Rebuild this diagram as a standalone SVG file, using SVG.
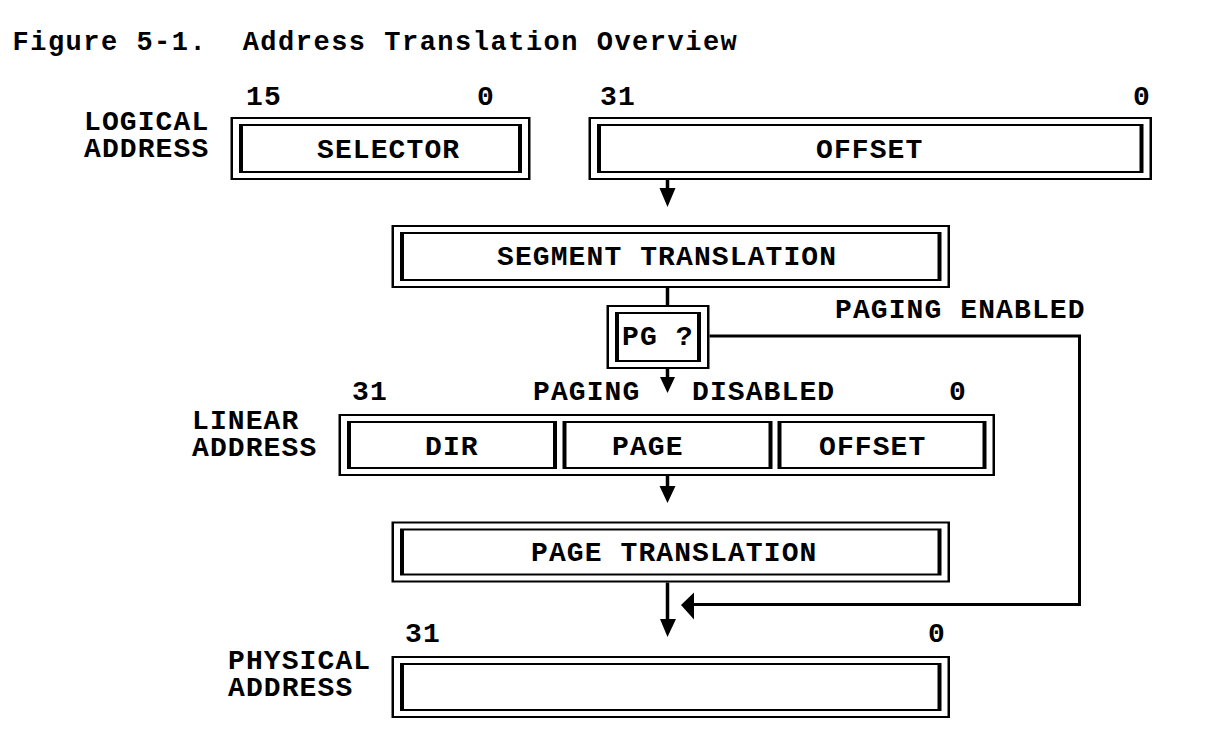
<svg xmlns="http://www.w3.org/2000/svg" width="1212" height="745" viewBox="0 0 1212 745">
<style>
.k{fill:#000}
.w{fill:#fff}
text{font-family:"Liberation Mono","DejaVu Sans Mono",monospace;font-weight:bold;font-size:28px;letter-spacing:1.1px;fill:#000}
.t{font-size:27px;letter-spacing:1.5px}
.ln{fill:none;stroke:#000;stroke-width:3.5}
.bp{fill:none;stroke:#000;stroke-width:3}
</style>
<rect x="0" y="0" width="1212" height="745" fill="#fff"/>
<text class="t" x="12.5" y="49.5" xml:space="preserve">Figure 5-1.  Address Translation Overview</text>

<g id="logical-address">
<text x="84" y="130">LOGICAL<tspan x="84" dy="27">ADDRESS</tspan></text>
</g>

<g id="selector">
<text x="246" y="105">15</text>
<text x="477" y="105">0</text>
<rect class="k" x="230.5" y="117" width="300" height="63"/>
<rect class="w" x="233" y="119" width="295" height="59"/>
<rect class="k" x="239" y="124" width="283" height="49"/>
<rect class="w" x="243" y="126" width="275" height="45"/>
<text x="317" y="158">SELECTOR</text>
</g>

<g id="offset">
<text x="600" y="105">31</text>
<text x="1133" y="105">0</text>
<rect class="k" x="588.5" y="117" width="563.5" height="63"/>
<rect class="w" x="591" y="119" width="558.5" height="59"/>
<rect class="k" x="597" y="124" width="546.5" height="49"/>
<rect class="w" x="601" y="126" width="538.5" height="45"/>
<text x="816" y="158">OFFSET</text>
</g>

<g id="segment-translation">
<rect class="k" x="391.5" y="225" width="558.5" height="63"/>
<rect class="w" x="394" y="227" width="553.5" height="59"/>
<rect class="k" x="400" y="232" width="541.5" height="49"/>
<rect class="w" x="404" y="234" width="533.5" height="45"/>
<text x="497" y="265">SEGMENT TRANSLATION</text>
</g>

<g id="pg">
<rect class="k" x="606.5" y="305" width="103" height="64"/>
<rect class="w" x="609" y="307" width="98" height="60"/>
<rect class="k" x="615" y="312" width="86" height="50"/>
<rect class="w" x="619" y="314" width="78" height="46"/>
<text x="622" y="345">PG ?</text>
</g>

<g id="paging-labels">
<text x="835" y="318">PAGING ENABLED</text>
<text x="533" y="400">PAGING</text>
<text x="692" y="400">DISABLED</text>
</g>

<g id="linear-address">
<text x="192" y="429">LINEAR<tspan x="192" dy="27">ADDRESS</tspan></text>
<text x="352" y="400">31</text>
<text x="949" y="400">0</text>
<rect class="k" x="338.5" y="414" width="656.5" height="62"/>
<rect class="w" x="341" y="416" width="651.5" height="58"/>
<rect class="k" x="347" y="421" width="210" height="48"/>
<rect class="w" x="351" y="423" width="202" height="44"/>
<rect class="k" x="562.5" y="421" width="210" height="48"/>
<rect class="w" x="566.5" y="423" width="202" height="44"/>
<rect class="k" x="777.5" y="421" width="209" height="48"/>
<rect class="w" x="781.5" y="423" width="201" height="44"/>
<text x="425" y="455">DIR</text>
<text x="612" y="455">PAGE</text>
<text x="819" y="455">OFFSET</text>
</g>

<g id="page-translation">
<rect class="k" x="391.5" y="521.5" width="558.5" height="61"/>
<rect class="w" x="394" y="523.5" width="553.5" height="57"/>
<rect class="k" x="400" y="528.5" width="541.5" height="47"/>
<rect class="w" x="404" y="530.5" width="533.5" height="43"/>
<text x="531" y="561">PAGE TRANSLATION</text>
</g>

<g id="physical-address">
<text x="228" y="669">PHYSICAL<tspan x="228" dy="27">ADDRESS</tspan></text>
<text x="405" y="642">31</text>
<text x="928" y="642">0</text>
<rect class="k" x="391.5" y="656" width="558.5" height="62"/>
<rect class="w" x="394" y="658" width="553.5" height="58"/>
<rect class="k" x="400" y="663" width="541.5" height="48"/>
<rect class="w" x="404" y="665" width="533.5" height="44"/>
</g>

<g id="connectors">
<line class="ln" x1="667.5" y1="180" x2="667.5" y2="192"/>
<polygon class="k" points="659.5,188 675.5,188 667.5,207"/>
<line class="ln" x1="667.5" y1="288" x2="667.5" y2="305"/>
<line class="ln" x1="667.5" y1="369" x2="667.5" y2="380"/>
<polygon class="k" points="660,377 675,377 667.5,393"/>
<line class="ln" x1="667.5" y1="476" x2="667.5" y2="489"/>
<polygon class="k" points="659.5,486 675.5,486 667.5,503"/>
<line class="ln" x1="667.5" y1="582.5" x2="667.5" y2="622"/>
<polygon class="k" points="660,619 676,619 667.5,637"/>
<polyline class="bp" points="709.5,336 1079.5,336 1079.5,604.5 692,604.5"/>
<polygon class="k" points="681,605 694,592.5 694,619.5"/>
</g>
</svg>
